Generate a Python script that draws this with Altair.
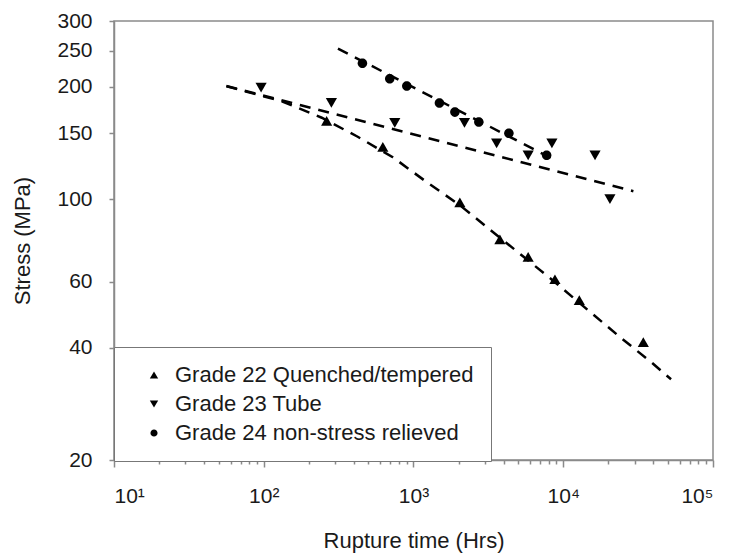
import altair as alt
import pandas as pd

G22 = "Grade 22 Quenched/tempered"
G23 = "Grade 23 Tube"
G24 = "Grade 24 non-stress relieved"

# measured points
g22_time = [263, 624, 2040, 3775, 5830, 8800, 12800, 34250]
g22_stress = [162, 138, 98, 78, 70, 61, 53.6, 41.4]
g23_time = [96, 283, 750, 2190, 3590, 5830, 8400, 16300, 20500]
g23_stress = [199, 181, 160, 160, 141, 131, 141, 131, 100]
g24_time = [456, 694, 902, 1490, 1890, 2730, 4335, 7745]
g24_stress = [231, 210, 201, 181, 171, 161, 150, 131]

# trend lines
g22_fit_time = [56.5, 132, 244, 424, 727, 1227, 2040, 3340, 5380, 8800, 14630, 23930, 39170, 52480]
g22_fit_stress = [200.6, 182.8, 165.2, 146.9, 129.5, 111.0, 96.3, 82.0, 70.3, 59.9, 50.4, 42.7, 36.4, 32.9]
g23_fit_time = [56.2, 29400]
g23_fit_stress = [201, 105]
g24_fit_time = [313, 9040]
g24_fit_stress = [253, 126.5]

x_tick_values = [10, 20, 30, 40, 50, 60, 70, 80, 90,
                 100, 200, 300, 400, 500, 600, 700, 800, 900,
                 1000, 2000, 3000, 4000, 5000, 6000, 7000, 8000, 9000,
                 10000, 20000, 30000, 40000, 50000, 60000, 70000, 80000, 90000,
                 100000]
y_tick_values = [20, 40, 60, 100, 150, 200, 250, 300]

points = pd.concat([
    pd.DataFrame({"grade": G22, "time": g22_time, "stress": g22_stress}),
    pd.DataFrame({"grade": G23, "time": g23_time, "stress": g23_stress}),
    pd.DataFrame({"grade": G24, "time": g24_time, "stress": g24_stress}),
], ignore_index=True)

fits = pd.concat([
    pd.DataFrame({"grade": G22, "time": g22_fit_time, "stress": g22_fit_stress}),
    pd.DataFrame({"grade": G23, "time": g23_fit_time, "stress": g23_fit_stress}),
    pd.DataFrame({"grade": G24, "time": g24_fit_time, "stress": g24_fit_stress}),
], ignore_index=True)
fits["order"] = range(len(fits))

FONT = "Liberation Sans, Arial, sans-serif"
GRAY = "#8a8a8a"
SMALL_CIRCLE = "M0.85,0A0.85,0.85,0,1,1,-0.85,0A0.85,0.85,0,1,1,0.85,0Z"

x_scale = alt.Scale(type="log", domain=[10, 100000], nice=False)
y_scale = alt.Scale(type="log", domain=[20, 300], nice=False)

x_axis = alt.Axis(
    title="Rupture time (Hrs)",
    values=x_tick_values,
    labelExpr=("datum.value == 10 ? '10¹' : datum.value == 100 ? '10²' : "
               "datum.value == 1000 ? '10³' : datum.value == 10000 ? '10⁴' : "
               "datum.value == 100000 ? '10⁵' : ''"),
    tickSize={"condition": {"test": "indexof([10,100,1000,10000,100000], datum.value) >= 0", "value": 7}, "value": 4},
    labelOverlap=False,
    labelPadding=18,
    titlePadding=24,
    grid=False,
)
y_axis = alt.Axis(
    title="Stress (MPa)",
    values=y_tick_values,
    format="d",
    tickSize=5,
    labelPadding=17,
    titlePadding=22,
    grid=False,
)

lines = alt.Chart(fits).mark_line(
    color="black", strokeWidth=2.5, strokeDash=[11, 8]
).encode(
    x=alt.X("time:Q", scale=x_scale, axis=x_axis),
    y=alt.Y("stress:Q", scale=y_scale, axis=y_axis),
    detail="grade:N",
    order="order:Q",
)

marks = alt.Chart(points).mark_point(
    filled=True, color="black", opacity=1, size=125
).encode(
    x=alt.X("time:Q", scale=x_scale),
    y=alt.Y("stress:Q", scale=y_scale),
    shape=alt.Shape(
        "grade:N",
        scale=alt.Scale(domain=[G22, G23, G24], range=["triangle-up", "triangle-down", SMALL_CIRCLE]),
        legend=alt.Legend(
            title=None, orient="none", legendX=0, legendY=326,
            padding=17, symbolOffset=12, labelOffset=10, rowPadding=7,
            labelFontSize=22, labelFont=FONT, labelColor="#1a1a1a", labelLimit=500,
            fillColor="white", strokeColor="#777777",
            symbolFillColor="black", symbolStrokeColor="black", symbolSize=70,
        ),
    ),
)

chart = alt.layer(lines, marks).properties(
    width=599, height=439,
    padding={"left": 114, "top": 21, "right": 22, "bottom": 100},
    autosize=alt.AutoSizeParams(type="none"),
    background="white",
).configure_view(
    stroke=GRAY, strokeWidth=1.5
).configure_axis(
    labelFont=FONT, titleFont=FONT, labelFontSize=21, titleFontSize=22,
    titleFontWeight="normal", labelColor="#1a1a1a", titleColor="#1a1a1a",
    domainColor=GRAY, domainWidth=1.5, tickColor=GRAY, tickWidth=1.5,
)

chart.save("out.html", embed_options={"renderer": "svg", "actions": False})
